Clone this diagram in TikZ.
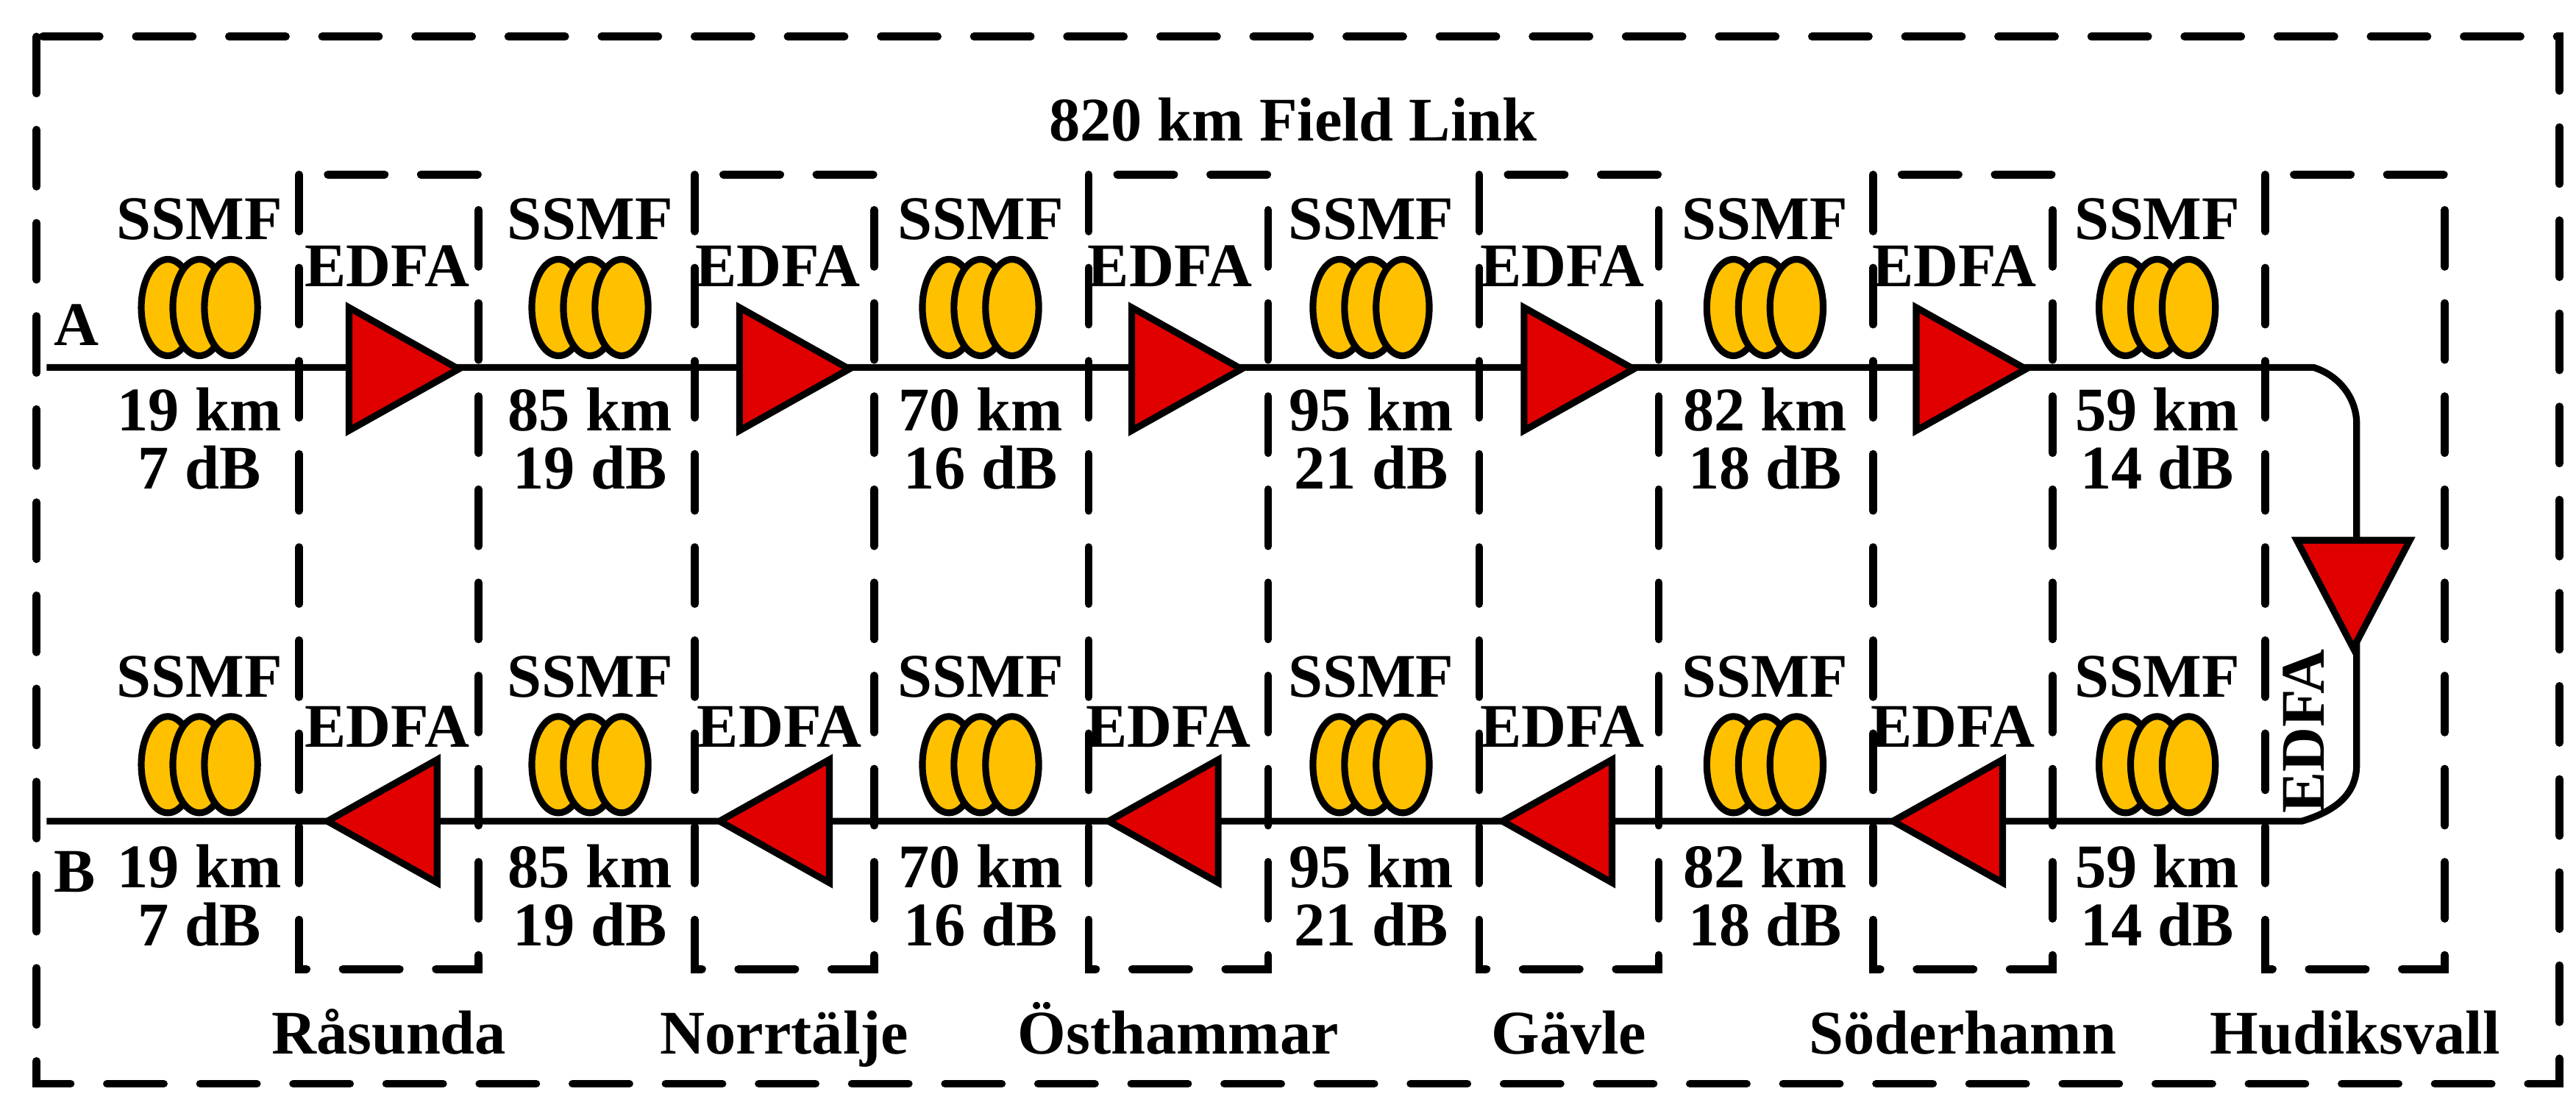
\documentclass[tikz,border=0pt]{standalone}
\usepackage{fontspec}
\setmainfont{Liberation Serif}
\definecolor{coilc}{HTML}{FFC000}
\definecolor{ampc}{HTML}{E00000}
\begin{document}
\begin{tikzpicture}[x=0.02259cm,y=-0.02259cm,
  lw/.style={line width=2.6pt},
  dbox/.style={line width=3pt,dash pattern=on 22pt off 14pt,line cap=round},
  amp/.style={lw,fill=ampc,line join=miter},
  coil/.style={lw,fill=coilc},
  lbl/.style={font=\bfseries\fontsize{24}{27}\selectfont,align=center,inner sep=0pt},
]
\useasboundingbox (0,0) rectangle (1550,666.2);
\draw[dbox] (22,22) rectangle (1540,652);
\node[lbl] (title) at (778,72) {820 km Field Link};
\foreach \x/\n [count=\i] in {180/R\aa sunda,418/Norrt\"alje,655/\"Osthammar,890/G\"avle,1127/S\"oderhamn,1363/Hudiksvall}{
  \draw[dbox] (\x,105) rectangle ++(108,478);
  \node[lbl,anchor=base] (loc\i) at (\x+54,634) {\n};
}
\coordinate (A0) at (28,221);
\coordinate (B0) at (28,494);
\draw[lw] (A0) -- (1392,221) .. controls (1408,226) and (1418,240) .. (1418,255) -- (1418,460) .. controls (1418,478) and (1405,488) .. (1385,494) -- (B0);
\node[lbl,anchor=south west] (la) at (32,208) {A};
\node[lbl,anchor=north west] (lb) at (32,512) {B};
\foreach \x/\km/\db [count=\i] in {120/19/7,355/85/19,590/70/16,825/95/21,1062/82/18,1298/59/14}{
  \foreach \y in {185,460}{
    \foreach \d in {-19,0,19} \draw[coil] (\x+\d,\y) ellipse (16 and 29);
    \node[lbl] at (\x,\y-53) {SSMF};
    \node[lbl,anchor=base] at (\x,\y+74) {\km\ km};
    \node[lbl,anchor=base] at (\x,\y+109) {\db\ dB};
  }
}
\foreach \x in {243,478,714,950,1186}{
  \draw[amp] (\x-33,185) -- (\x+33,222) -- (\x-33,259) -- cycle;
  \node[lbl] at (\x-10,160) {EDFA};
}
\foreach \x in {230,466,700,937,1172}{
  \draw[amp] (\x+33,457) -- (\x-33,494) -- (\x+33,531) -- cycle;
  \node[lbl] at (\x+3,437) {EDFA};
}
\draw[amp] (1382,325) -- (1450,325) -- (1416,390) -- cycle;
\node[lbl,rotate=90] (e6) at (1386,440) {EDFA};
\end{tikzpicture}
\end{document}
